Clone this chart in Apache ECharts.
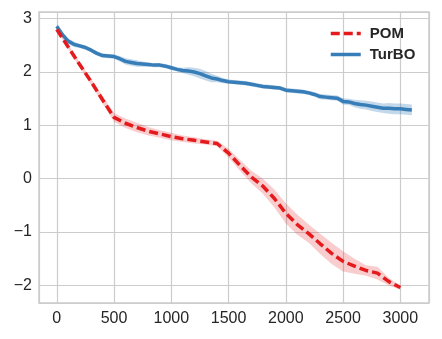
<!DOCTYPE html>
<html>
<head>
<meta charset="utf-8">
<script src="https://cdn.jsdelivr.net/npm/echarts@6/dist/echarts.min.js"></script>
<style>
  html, body { margin: 0; padding: 0; background: #fff; }
  #chart { width: 442px; height: 339px; }
</style>
</head>
<body>
<div id="chart"></div>
<script>
// POM: evaluations every 100
var pomX = [0,100,200,300,400,500,600,700,800,900,1000,1100,1200,1300,1400,1500,
  1600,1700,1800,1900,2000,2100,2200,2300,2400,2500,2600,2700,2800,2900,3000];
var pomMean = [2.80,2.47,2.14,1.82,1.48,1.15,1.04,0.96,0.89,0.84,0.79,0.75,0.72,0.69,0.66,0.48,
  0.25,0.03,-0.14,-0.37,-0.65,-0.86,-1.03,-1.22,-1.40,-1.55,-1.64,-1.72,-1.77,-1.93,-2.04];
var pomStd = [0.02,0.04,0.05,0.06,0.07,0.08,0.09,0.09,0.08,0.07,0.07,0.06,0.06,0.05,0.05,0.08,
  0.10,0.12,0.14,0.17,0.19,0.19,0.17,0.19,0.2,0.19,0.14,0.10,0.12,0.07,0.04];

// TurBO: evaluations every 50
var turX = [0,50,100,150,200,250,300,350,400,450,500,550,600,650,700,750,800,850,900,950,
  1000,1050,1100,1150,1200,1250,1300,1350,1400,1450,1500,1550,1600,1650,1700,1750,1800,1850,1900,1950,
  2000,2050,2100,2150,2200,2250,2300,2350,2400,2450,2500,2550,2600,2650,2700,2750,2800,2850,2900,2950,
  3000,3050,3100];
var turMean = [2.86,2.70,2.58,2.52,2.49,2.46,2.41,2.35,2.31,2.30,2.29,2.25,2.20,2.18,2.16,2.15,2.14,2.13,2.13,2.11,
  2.08,2.05,2.03,2.02,2.00,1.97,1.93,1.89,1.87,1.84,1.82,1.81,1.80,1.79,1.77,1.75,1.73,1.72,1.71,1.70,
  1.66,1.65,1.64,1.63,1.61,1.58,1.54,1.53,1.52,1.51,1.45,1.44,1.41,1.39,1.38,1.36,1.34,1.32,1.32,1.31,
  1.31,1.30,1.29];
var turStd = [0.03,0.04,0.05,0.05,0.04,0.04,0.04,0.04,0.04,0.04,0.04,0.05,0.06,0.06,0.06,0.05,0.04,0.04,0.04,0.04,
  0.04,0.04,0.05,0.07,0.08,0.09,0.09,0.08,0.06,0.05,0.04,0.04,0.04,0.04,0.04,0.04,0.04,0.04,0.04,0.04,
  0.04,0.04,0.04,0.04,0.04,0.04,0.05,0.05,0.05,0.05,0.06,0.06,0.07,0.08,0.08,0.09,0.09,0.09,0.1,0.1,
  0.1,0.1,0.1];

var labelFont = 'Liberation Sans';

function pairs(xs, ys) {
  return xs.map(function (x, i) { return [x, ys[i]]; });
}

function bandSeries(xs, mean, sd, color) {
  return {
    type: 'custom',
    silent: true,
    z: 1,
    data: [[xs[0], mean[0]]],
    renderItem: function (params, api) {
      var pts = [];
      for (var i = 0; i < xs.length; i++) pts.push(api.coord([xs[i], mean[i] + sd[i]]));
      for (var j = xs.length - 1; j >= 0; j--) pts.push(api.coord([xs[j], mean[j] - sd[j]]));
      return { type: 'polygon', shape: { points: pts }, style: { fill: color } };
    }
  };
}

var myChart = echarts.init(document.getElementById('chart'));
var option = {
  animation: false,
  backgroundColor: '#fff',
  grid: {
    left: 39, right: 13, top: 12, bottom: 36,
    show: true, borderColor: '#cccccc', borderWidth: 1.5
  },
  legend: {
    orient: 'vertical',
    left: 324, top: 21,
    itemWidth: 30, itemHeight: 14, itemGap: 6,
    itemStyle: { opacity: 0 },
    lineStyle: { width: 3.5 },
    textStyle: { fontFamily: labelFont, fontWeight: 'bold', fontSize: 15, color: '#262626', padding: [0, 0, 0, 4] },
    data: ['POM', 'TurBO']
  },
  xAxis: {
    type: 'value',
    min: -155, max: 3250,
    splitNumber: 7,
    axisLine: { show: false },
    axisTick: { show: false },
    splitLine: { show: true, lineStyle: { color: '#cccccc', width: 1.2 } },
    axisLabel: {
      showMinLabel: false, showMaxLabel: false,
      margin: 8,
      fontFamily: labelFont, fontSize: 16, color: '#262626',
      formatter: function (v) { return v % 500 === 0 ? String(v) : ''; }
    }
  },
  yAxis: {
    type: 'value',
    min: -2.33, max: 3.126,
    splitNumber: 5,
    axisLine: { show: false },
    axisTick: { show: false },
    splitLine: { show: true, lineStyle: { color: '#cccccc', width: 1.2 } },
    axisLabel: {
      showMinLabel: false, showMaxLabel: false,
      margin: 7,
      fontFamily: labelFont, fontSize: 16, color: '#262626',
      formatter: function (v) {
        if (Math.abs(v - Math.round(v)) > 1e-6) return '';
        return v < 0 ? '\u2212' + Math.abs(v) : String(v);
      }
    }
  },
  series: [
    bandSeries(turX, turMean, turStd, 'rgba(55,126,184,0.3)'),
    bandSeries(pomX, pomMean, pomStd, 'rgba(228,26,28,0.22)'),
    {
      name: 'TurBO',
      type: 'line',
      symbol: 'none',
      z: 3,
      lineStyle: { color: '#377eb8', width: 3.5 },
      itemStyle: { color: '#377eb8' },
      data: pairs(turX, turMean)
    },
    {
      name: 'POM',
      type: 'line',
      symbol: 'none',
      z: 4,
      lineStyle: { color: '#e41a1c', width: 3.5, type: [9, 4] },
      itemStyle: { color: '#e41a1c' },
      data: pairs(pomX, pomMean)
    }
  ]
};
myChart.setOption(option);
</script>
</body>
</html>
